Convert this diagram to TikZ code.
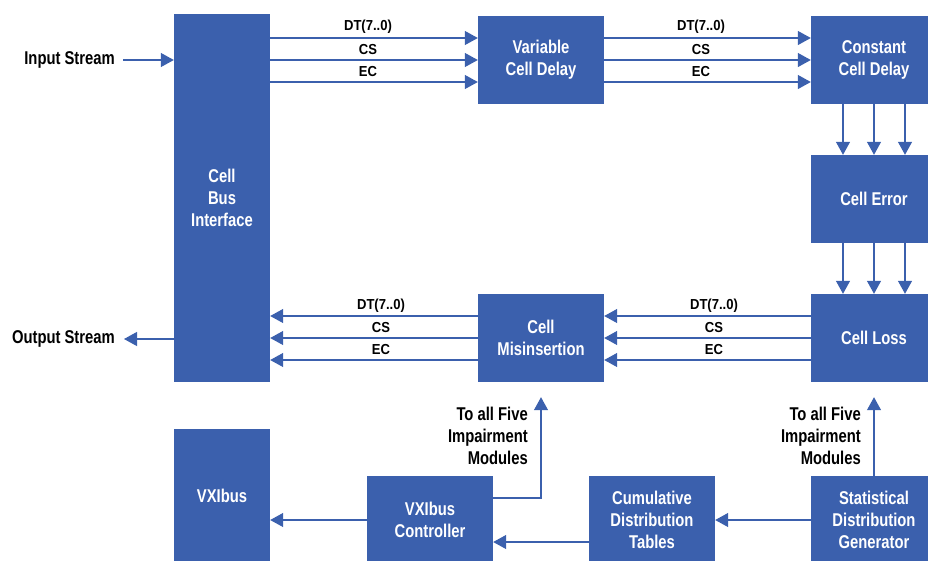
\documentclass[tikz,border=0pt]{standalone}
\usepackage{fontspec}
\setmainfont{Liberation Sans}[FakeStretch=0.80]
\newfontfamily\sigfont{Liberation Sans}[FakeStretch=0.90]
\usetikzlibrary{arrows.meta}
\definecolor{hpblue}{RGB}{59,96,173}
\begin{document}
\begin{tikzpicture}[x=1pt,y=-1pt,
  box/.style={fill=hpblue, draw=none, text=white, font=\bfseries\fontsize{18.5}{21.7}\selectfont, align=center, inner sep=0pt, minimum width=126pt, minimum height=88pt},
  arr/.style={draw=hpblue, line width=1.2pt, -{Triangle[length=13pt,width=14pt]}},
  sig/.style={font=\sigfont\bfseries\fontsize{14.5}{16}\selectfont, inner sep=0pt},
  lab/.style={font=\bfseries\fontsize{18.5}{21.7}\selectfont, inner sep=0pt, align=right}]
\useasboundingbox (0,0) rectangle (928,560);
\clip (0,0) rectangle (928,560);
% boxes
\node[box, minimum width=96pt, minimum height=368pt] (cbi) at (222,198) {Cell\\Bus\\Interface};
\node[box] (vcd) at (541,60) {Variable\\Cell Delay};
\node[box] (ccd) at (874,60) {Constant\\Cell Delay};
\node[box] (ce) at (874,199) {Cell Error};
\node[box] (cl) at (874,338) {Cell Loss};
\node[box] (cm) at (541,338) {Cell\\Misinsertion};
\node[box, minimum width=96pt, minimum height=134pt] (vxi) at (222,496) {VXIbus};
\node[box] (vc) at (430,520) {VXIbus\\Controller};
\node[box] (cdt) at (652,520) {Cumulative\\Distribution\\Tables};
\node[box] (sdg) at (874,520) {Statistical\\Distribution\\Generator};
% outer labels
\node[lab, anchor=east] (ins) at (115,60) {Input Stream};
\node[lab, anchor=east] (outs) at (115,339) {Output Stream};
\node[lab, anchor=east] (t5a) at (528,436) {To all Five\\Impairment\\Modules};
\node[lab, anchor=east] (t5b) at (861,436) {To all Five\\Impairment\\Modules};
% signal labels
\node[sig] (d1) at (368,27) {DT(7..0)};
\node[sig] (c1) at (368,50) {CS};
\node[sig] (e1) at (368,72) {EC};
\node[sig] (d2) at (701,27) {DT(7..0)};
\node[sig] (c2) at (701,50) {CS};
\node[sig] (e2) at (701,72) {EC};
\node[sig] (d3) at (381,306) {DT(7..0)};
\node[sig] (c3) at (381,328) {CS};
\node[sig] (e3) at (381,350) {EC};
\node[sig] (d4) at (714,306) {DT(7..0)};
\node[sig] (c4) at (714,328) {CS};
\node[sig] (e4) at (714,350) {EC};
% connectors
\draw[arr] ([xshift=8pt]ins.east) -- (ins.east -| cbi.west);
\draw[arr] (cbi.west |- outs.east) -- ([xshift=9pt]outs.east);
\foreach \d in {22,0,-22}{
  \coordinate (p) at ([yshift=\d pt]vcd.west);
  \draw[arr] (cbi.east |- p) -- (p);
  \coordinate (q) at ([yshift=\d pt]ccd.west);
  \draw[arr] (vcd.east |- q) -- (q);
  \coordinate (r) at ([yshift=\d pt]cl.west);
  \draw[arr] (r) -- (cm.east |- r);
  \coordinate (s) at ([yshift=\d pt]cm.west);
  \draw[arr] (s) -- (cbi.east |- s);
}
\foreach \d in {-31,0,31}{
  \draw[arr] ([xshift=\d pt]ccd.south) -- ([xshift=\d pt]ce.north);
  \draw[arr] ([xshift=\d pt]ce.south) -- ([xshift=\d pt]cl.north);
}
\draw[arr] (vc.west) -- (vc.west -| vxi.east);
\coordinate (up1) at ([yshift=-15pt]cm.south);
\draw[arr] ([yshift=22pt]vc.east) -| (up1);
\draw[arr] ([yshift=-22pt]cdt.west) -- ([yshift=-22pt]cdt.west -| vc.east);
\draw[arr] (sdg.west) -- (cdt.east);
\coordinate (up2) at ([yshift=-15pt]cl.south);
\draw[arr] (sdg.north) -- (up2);
\end{tikzpicture}
\end{document}
